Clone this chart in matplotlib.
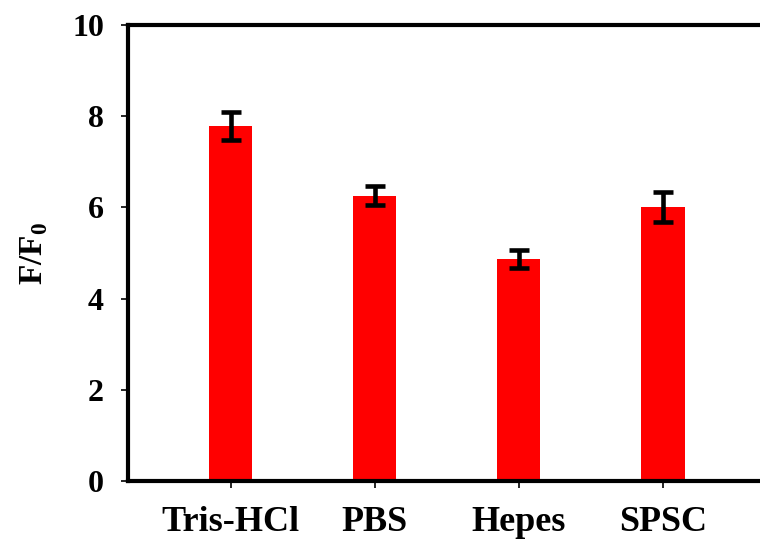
import matplotlib
matplotlib.use("Agg")
import matplotlib.pyplot as plt

# Fluorescence enhancement in different buffers
buffers = ["Tris-HCl", "PBS", "Hepes", "SPSC"]
ratio = [7.79, 6.26, 4.87, 6.01]
ratio_err = [0.31, 0.20, 0.19, 0.33]
y_ticks = [0, 2, 4, 6, 8, 10]

plt.rcParams["font.family"] = ["Liberation Serif", "DejaVu Serif"]
plt.rcParams["font.weight"] = "bold"
plt.rcParams["mathtext.fontset"] = "custom"
plt.rcParams["mathtext.rm"] = "Liberation Serif:bold"
plt.rcParams["mathtext.bf"] = "Liberation Serif:bold"

fig = plt.figure(figsize=(7.6, 5.39), dpi=100)
ax = fig.add_axes([0.168, 0.107, 0.832, 0.847])

x = list(range(len(buffers)))
ax.bar(x, ratio, width=0.3, color="#ff0000", zorder=2)
ax.errorbar(x, ratio, yerr=ratio_err, fmt="none", ecolor="black",
            elinewidth=3.3, capsize=7.5, capthick=3.3, zorder=3)

ax.set_xlim(-0.715, 3.674)
ax.set_ylim(0, 10)
ax.set_xticks(x)
ax.set_xticklabels(buffers, fontsize=26, fontweight="bold")
ax.set_yticks(y_ticks)
ax.set_yticklabels([str(t) for t in y_ticks], fontsize=23, fontweight="bold")

for side in ("left", "bottom", "top"):
    ax.spines[side].set_linewidth(3)
ax.spines["right"].set_visible(False)

ax.tick_params(axis="y", direction="out", length=5, width=1.2, pad=12)
ax.tick_params(axis="x", direction="out", length=5, width=1.2, pad=13)

ax.set_ylabel(r"F/F$_\mathregular{0}$", fontsize=24, fontweight="bold", labelpad=16)

fig.savefig("out.png", dpi=100)
